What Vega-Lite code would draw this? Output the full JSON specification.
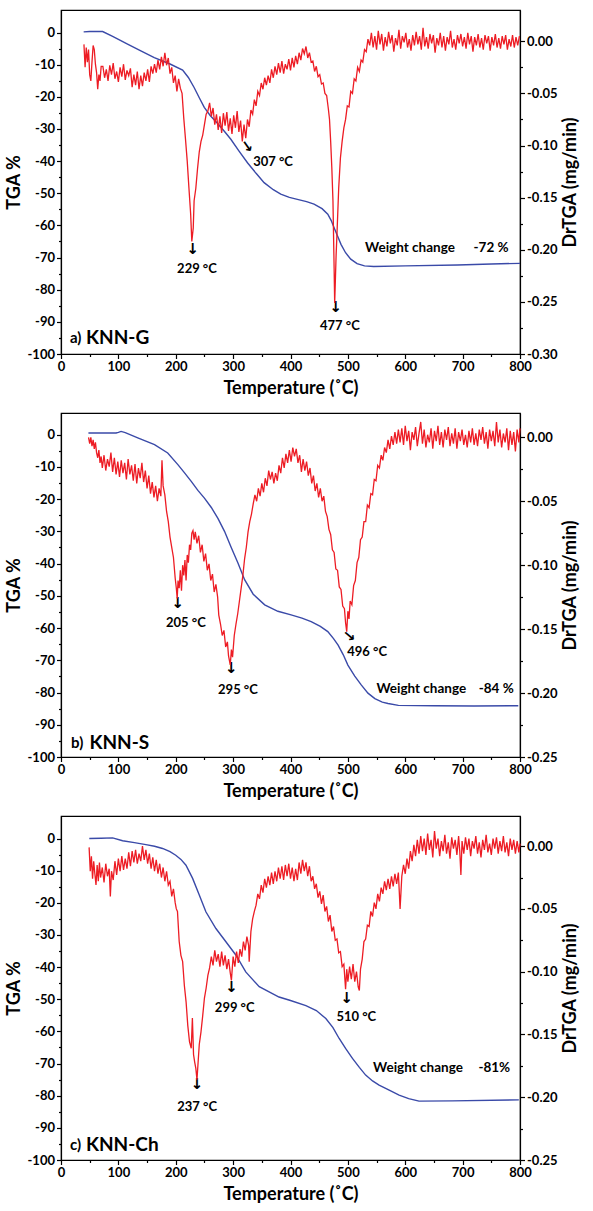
{
"$schema":"https://vega.github.io/schema/vega-lite/v6.json",
"background":"white",
"padding":{"left":4,"top":9,"right":5,"bottom":2},
"spacing":13,
"config":{
 "font":"Lato",
 "view":{"stroke":"black","strokeWidth":1.2},
 "axis":{"domainColor":"black","domainWidth":1.2,"tickColor":"black","tickWidth":1.2,"labelColor":"black","labelFont":"Lato","labelFontSize":13,"labelFontWeight":"bold","titleFont":"Lato","titleFontSize":18,"titleFontWeight":"bold","titleColor":"black","grid":false,"labelPadding":2,"labelOverlap":false,"labelFlush":false}
},
"datasets":{
"ba":[{"t":39.5,"v":0.2},{"t":50,"v":0.3},{"t":72.6,"v":0.3},{"t":90,"v":-1.2},{"t":116,"v":-3.6},{"t":140,"v":-5.8},{"t":162.6,"v":-7.8},{"t":190,"v":-9.8},{"t":212,"v":-11.7},{"t":222,"v":-14},{"t":232,"v":-17.1},{"t":241,"v":-20.3},{"t":249.7,"v":-23.3},{"t":260,"v":-25.8},{"t":273,"v":-28.3},{"t":285,"v":-30.8},{"t":296,"v":-33.2},{"t":310,"v":-36.8},{"t":325,"v":-40.5},{"t":340,"v":-43.8},{"t":354,"v":-46.7},{"t":370,"v":-48.9},{"t":383,"v":-50.3},{"t":398,"v":-51.3},{"t":412,"v":-51.9},{"t":428,"v":-52.6},{"t":441,"v":-53.4},{"t":455,"v":-54.8},{"t":465,"v":-56.5},{"t":471,"v":-58.5},{"t":476,"v":-60.7},{"t":482,"v":-63.3},{"t":488,"v":-65.9},{"t":496,"v":-68.5},{"t":505,"v":-70.5},{"t":516,"v":-71.9},{"t":529,"v":-72.6},{"t":545,"v":-72.8},{"t":600,"v":-72.6},{"t":691,"v":-72.3},{"t":750,"v":-72.0},{"t":800,"v":-71.8}],
"bb":[{"t":47.8,"v":0.5},{"t":96,"v":0.5},{"t":100,"v":0.7},{"t":104.7,"v":1.0},{"t":112,"v":0.6},{"t":133.8,"v":-1.0},{"t":163,"v":-3.1},{"t":186,"v":-5.7},{"t":203.7,"v":-9.3},{"t":215,"v":-11.8},{"t":227,"v":-14.5},{"t":238.6,"v":-17.3},{"t":250,"v":-19.7},{"t":262,"v":-22.6},{"t":273.5,"v":-26},{"t":285,"v":-30},{"t":296.7,"v":-35},{"t":308.4,"v":-39.8},{"t":320,"v":-45},{"t":335,"v":-49.5},{"t":355,"v":-52.8},{"t":378,"v":-54.8},{"t":401,"v":-55.9},{"t":420,"v":-56.9},{"t":436,"v":-58},{"t":452,"v":-59.5},{"t":465,"v":-61.1},{"t":475,"v":-63.3},{"t":483,"v":-65.3},{"t":492,"v":-68.3},{"t":500,"v":-71.5},{"t":512,"v":-74.9},{"t":523.6,"v":-77.7},{"t":535,"v":-80.2},{"t":547,"v":-81.9},{"t":560,"v":-83},{"t":570,"v":-83.4},{"t":588,"v":-84},{"t":650,"v":-84.1},{"t":720,"v":-84.2},{"t":797,"v":-84.1}],
"bc":[{"t":49.3,"v":0},{"t":70,"v":0.1},{"t":90,"v":0.2},{"t":107.4,"v":-0.7},{"t":128,"v":-1.3},{"t":148,"v":-1.9},{"t":163,"v":-2.4},{"t":177,"v":-3.1},{"t":190,"v":-4.1},{"t":200,"v":-5.2},{"t":209,"v":-6.5},{"t":217.8,"v":-8.3},{"t":229.4,"v":-12.4},{"t":241,"v":-17.6},{"t":252.5,"v":-22.8},{"t":270,"v":-28},{"t":287.4,"v":-32.1},{"t":305,"v":-36.3},{"t":322,"v":-41.5},{"t":345.5,"v":-46.1},{"t":380,"v":-49.3},{"t":400,"v":-50.4},{"t":426.8,"v":-52},{"t":445,"v":-53.5},{"t":461.6,"v":-56},{"t":474,"v":-58.8},{"t":484.8,"v":-62.2},{"t":496,"v":-65.3},{"t":508,"v":-68.4},{"t":520,"v":-71.2},{"t":531,"v":-73.6},{"t":543,"v":-75.4},{"t":554.4,"v":-76.7},{"t":572,"v":-78.3},{"t":589.3,"v":-79.8},{"t":606,"v":-80.9},{"t":624,"v":-81.7},{"t":682,"v":-81.6},{"t":798,"v":-81.3}],
"ra":[{"t":40,"d":-0.003},{"t":42,"d":-0.025},{"t":44,"d":-0.006},{"t":46,"d":-0.020},{"t":48,"d":-0.008},{"t":50,"d":-0.032},{"t":52,"d":-0.038},{"t":54,"d":-0.020},{"t":56,"d":-0.004},{"t":58,"d":-0.008},{"t":60,"d":-0.022},{"t":62,"d":-0.030},{"t":64,"d":-0.046},{"t":66,"d":-0.032},{"t":68,"d":-0.038},{"t":70,"d":-0.024},{"t":73,"d":-0.024},{"t":76,"d":-0.035},{"t":79,"d":-0.027},{"t":82,"d":-0.038},{"t":85,"d":-0.023},{"t":88,"d":-0.032},{"t":91,"d":-0.021},{"t":94,"d":-0.036},{"t":97,"d":-0.029},{"t":100,"d":-0.039},{"t":103,"d":-0.025},{"t":106,"d":-0.034},{"t":109,"d":-0.022},{"t":112,"d":-0.037},{"t":115,"d":-0.028},{"t":118,"d":-0.033},{"t":121,"d":-0.026},{"t":124,"d":-0.044},{"t":127,"d":-0.032},{"t":130,"d":-0.042},{"t":133,"d":-0.029},{"t":136,"d":-0.046},{"t":139,"d":-0.033},{"t":142,"d":-0.043},{"t":145,"d":-0.030},{"t":148,"d":-0.038},{"t":151,"d":-0.027},{"t":154,"d":-0.039},{"t":157,"d":-0.024},{"t":160,"d":-0.031},{"t":163,"d":-0.022},{"t":166,"d":-0.030},{"t":169,"d":-0.018},{"t":172,"d":-0.027},{"t":175,"d":-0.015},{"t":178,"d":-0.024},{"t":181,"d":-0.011},{"t":184,"d":-0.023},{"t":187,"d":-0.016},{"t":190,"d":-0.031},{"t":193,"d":-0.025},{"t":196,"d":-0.040},{"t":199,"d":-0.033},{"t":202,"d":-0.048},{"t":205,"d":-0.036},{"t":208,"d":-0.045},{"t":211,"d":-0.050},{"t":214,"d":-0.074},{"t":217,"d":-0.094},{"t":220,"d":-0.115},{"t":223,"d":-0.141},{"t":226,"d":-0.166},{"t":228,"d":-0.192},{"t":230.5,"d":-0.179},{"t":232,"d":-0.153},{"t":235,"d":-0.141},{"t":238,"d":-0.122},{"t":241,"d":-0.106},{"t":244,"d":-0.096},{"t":247,"d":-0.090},{"t":250,"d":-0.080},{"t":253,"d":-0.070},{"t":256,"d":-0.067},{"t":259,"d":-0.059},{"t":262,"d":-0.072},{"t":265,"d":-0.064},{"t":268,"d":-0.080},{"t":271,"d":-0.070},{"t":274,"d":-0.085},{"t":277,"d":-0.072},{"t":280,"d":-0.088},{"t":283,"d":-0.069},{"t":286,"d":-0.081},{"t":289,"d":-0.068},{"t":292,"d":-0.086},{"t":295,"d":-0.074},{"t":298,"d":-0.089},{"t":301,"d":-0.071},{"t":304,"d":-0.083},{"t":307,"d":-0.067},{"t":310,"d":-0.087},{"t":313,"d":-0.076},{"t":316,"d":-0.096},{"t":319,"d":-0.080},{"t":322,"d":-0.093},{"t":325,"d":-0.075},{"t":328,"d":-0.082},{"t":331,"d":-0.066},{"t":334,"d":-0.070},{"t":337,"d":-0.056},{"t":340,"d":-0.062},{"t":343,"d":-0.048},{"t":346,"d":-0.052},{"t":349,"d":-0.040},{"t":352,"d":-0.046},{"t":355,"d":-0.035},{"t":358,"d":-0.042},{"t":361,"d":-0.033},{"t":364,"d":-0.040},{"t":367,"d":-0.027},{"t":370,"d":-0.035},{"t":373,"d":-0.024},{"t":376,"d":-0.032},{"t":379,"d":-0.021},{"t":382,"d":-0.030},{"t":385,"d":-0.019},{"t":388,"d":-0.031},{"t":391,"d":-0.022},{"t":394,"d":-0.027},{"t":397,"d":-0.017},{"t":400,"d":-0.028},{"t":403,"d":-0.016},{"t":406,"d":-0.025},{"t":409,"d":-0.014},{"t":412,"d":-0.022},{"t":415,"d":-0.011},{"t":418,"d":-0.018},{"t":421,"d":-0.007},{"t":424,"d":-0.012},{"t":427,"d":-0.005},{"t":430,"d":-0.016},{"t":433,"d":-0.011},{"t":436,"d":-0.020},{"t":439,"d":-0.019},{"t":442,"d":-0.029},{"t":445,"d":-0.024},{"t":448,"d":-0.034},{"t":451,"d":-0.032},{"t":454,"d":-0.041},{"t":457,"d":-0.040},{"t":460,"d":-0.050},{"t":463,"d":-0.052},{"t":466,"d":-0.065},{"t":468,"d":-0.075},{"t":470,"d":-0.096},{"t":472,"d":-0.121},{"t":474,"d":-0.153},{"t":476,"d":-0.217},{"t":477,"d":-0.251},{"t":478,"d":-0.233},{"t":479.5,"d":-0.205},{"t":481,"d":-0.185},{"t":484,"d":-0.141},{"t":487,"d":-0.112},{"t":490,"d":-0.096},{"t":493,"d":-0.083},{"t":496,"d":-0.075},{"t":499,"d":-0.062},{"t":502,"d":-0.063},{"t":505,"d":-0.048},{"t":508,"d":-0.050},{"t":511,"d":-0.036},{"t":514,"d":-0.038},{"t":517,"d":-0.025},{"t":520,"d":-0.029},{"t":523,"d":-0.018},{"t":526,"d":-0.020},{"t":529,"d":-0.008},{"t":532,"d":-0.010},{"t":535,"d":0.002},{"t":538,"d":-0.004},{"t":541,"d":0.008},{"t":544,"d":-0.006},{"t":547,"d":0.005},{"t":550,"d":-0.008},{"t":553,"d":0.010},{"t":556,"d":-0.003},{"t":559,"d":0.007},{"t":562,"d":-0.009},{"t":565,"d":0.004},{"t":568,"d":-0.005},{"t":571,"d":0.009},{"t":574,"d":-0.002},{"t":577,"d":0.006},{"t":580,"d":-0.010},{"t":583,"d":0.003},{"t":586,"d":-0.004},{"t":589,"d":0.011},{"t":592,"d":-0.007},{"t":595,"d":0.005},{"t":598,"d":-0.001},{"t":601,"d":0.008},{"t":604,"d":-0.006},{"t":607,"d":0.002},{"t":610,"d":-0.009},{"t":613,"d":0.006},{"t":616,"d":-0.004},{"t":619,"d":0.009},{"t":622,"d":-0.003},{"t":625,"d":0.005},{"t":628,"d":-0.008},{"t":631,"d":0.013},{"t":634,"d":-0.005},{"t":637,"d":0.004},{"t":640,"d":-0.007},{"t":643,"d":0.007},{"t":646,"d":-0.002},{"t":649,"d":0.006},{"t":652,"d":-0.011},{"t":655,"d":0.003},{"t":658,"d":-0.004},{"t":661,"d":0.008},{"t":664,"d":-0.006},{"t":667,"d":0.005},{"t":670,"d":-0.009},{"t":673,"d":0.004},{"t":676,"d":-0.003},{"t":679,"d":0.010},{"t":682,"d":-0.006},{"t":685,"d":0.002},{"t":688,"d":-0.008},{"t":691,"d":0.006},{"t":694,"d":-0.002},{"t":697,"d":0.007},{"t":700,"d":-0.005},{"t":703,"d":0.004},{"t":706,"d":-0.007},{"t":709,"d":0.008},{"t":712,"d":-0.003},{"t":715,"d":0.005},{"t":718,"d":-0.010},{"t":721,"d":0.004},{"t":724,"d":-0.004},{"t":727,"d":0.007},{"t":730,"d":-0.006},{"t":733,"d":0.003},{"t":736,"d":-0.008},{"t":739,"d":0.006},{"t":742,"d":-0.002},{"t":745,"d":0.005},{"t":748,"d":-0.009},{"t":751,"d":0.004},{"t":754,"d":-0.004},{"t":757,"d":0.007},{"t":760,"d":-0.006},{"t":763,"d":0.003},{"t":766,"d":-0.007},{"t":769,"d":0.005},{"t":772,"d":-0.003},{"t":775,"d":0.006},{"t":778,"d":-0.008},{"t":781,"d":0.002},{"t":784,"d":-0.005},{"t":787,"d":0.006},{"t":790,"d":-0.006},{"t":793,"d":0.004},{"t":796,"d":-0.004},{"t":799,"d":0.005}],
"rb":[{"t":48,"d":0.000},{"t":50,"d":-0.005},{"t":52,"d":0.000},{"t":54,"d":-0.007},{"t":56,"d":-0.002},{"t":58,"d":-0.009},{"t":60,"d":-0.004},{"t":62,"d":-0.012},{"t":64,"d":-0.016},{"t":66,"d":-0.010},{"t":68,"d":-0.020},{"t":70,"d":-0.015},{"t":72,"d":-0.024},{"t":75,"d":-0.014},{"t":78,"d":-0.026},{"t":81,"d":-0.017},{"t":84,"d":-0.023},{"t":87,"d":-0.012},{"t":90,"d":-0.027},{"t":93,"d":-0.016},{"t":96,"d":-0.029},{"t":99,"d":-0.019},{"t":102,"d":-0.031},{"t":105,"d":-0.018},{"t":108,"d":-0.028},{"t":111,"d":-0.020},{"t":114,"d":-0.033},{"t":117,"d":-0.017},{"t":120,"d":-0.029},{"t":123,"d":-0.022},{"t":126,"d":-0.034},{"t":129,"d":-0.021},{"t":132,"d":-0.036},{"t":135,"d":-0.024},{"t":138,"d":-0.032},{"t":141,"d":-0.020},{"t":144,"d":-0.035},{"t":147,"d":-0.026},{"t":150,"d":-0.040},{"t":153,"d":-0.030},{"t":156,"d":-0.044},{"t":159,"d":-0.035},{"t":162,"d":-0.047},{"t":165,"d":-0.038},{"t":168,"d":-0.050},{"t":171,"d":-0.040},{"t":174,"d":-0.046},{"t":176,"d":-0.018},{"t":178,"d":-0.038},{"t":181,"d":-0.045},{"t":184,"d":-0.058},{"t":187,"d":-0.066},{"t":190,"d":-0.078},{"t":193,"d":-0.086},{"t":196,"d":-0.094},{"t":199,"d":-0.110},{"t":201,"d":-0.118},{"t":202.5,"d":-0.126},{"t":204,"d":-0.112},{"t":206,"d":-0.118},{"t":208,"d":-0.104},{"t":210,"d":-0.120},{"t":212,"d":-0.100},{"t":214,"d":-0.108},{"t":216,"d":-0.096},{"t":218,"d":-0.112},{"t":220,"d":-0.092},{"t":222,"d":-0.098},{"t":224,"d":-0.084},{"t":226,"d":-0.088},{"t":228,"d":-0.075},{"t":230,"d":-0.073},{"t":232,"d":-0.080},{"t":234,"d":-0.074},{"t":237,"d":-0.083},{"t":240,"d":-0.077},{"t":243,"d":-0.090},{"t":246,"d":-0.084},{"t":249,"d":-0.097},{"t":252,"d":-0.091},{"t":255,"d":-0.104},{"t":258,"d":-0.099},{"t":261,"d":-0.112},{"t":264,"d":-0.107},{"t":267,"d":-0.121},{"t":270,"d":-0.115},{"t":273,"d":-0.125},{"t":275,"d":-0.139},{"t":278,"d":-0.146},{"t":281,"d":-0.155},{"t":284,"d":-0.151},{"t":287,"d":-0.164},{"t":290,"d":-0.160},{"t":292,"d":-0.171},{"t":295,"d":-0.178},{"t":297,"d":-0.166},{"t":299,"d":-0.172},{"t":302,"d":-0.155},{"t":305,"d":-0.146},{"t":308,"d":-0.138},{"t":311,"d":-0.128},{"t":314,"d":-0.118},{"t":317,"d":-0.108},{"t":320,"d":-0.095},{"t":323,"d":-0.086},{"t":326,"d":-0.074},{"t":329,"d":-0.066},{"t":332,"d":-0.060},{"t":335,"d":-0.052},{"t":338,"d":-0.045},{"t":341,"d":-0.050},{"t":344,"d":-0.040},{"t":347,"d":-0.046},{"t":350,"d":-0.036},{"t":353,"d":-0.043},{"t":356,"d":-0.032},{"t":359,"d":-0.038},{"t":362,"d":-0.026},{"t":365,"d":-0.033},{"t":368,"d":-0.027},{"t":371,"d":-0.036},{"t":374,"d":-0.028},{"t":377,"d":-0.034},{"t":380,"d":-0.022},{"t":383,"d":-0.028},{"t":386,"d":-0.016},{"t":389,"d":-0.024},{"t":392,"d":-0.013},{"t":395,"d":-0.020},{"t":398,"d":-0.010},{"t":401,"d":-0.019},{"t":404,"d":-0.008},{"t":407,"d":-0.015},{"t":410,"d":-0.009},{"t":413,"d":-0.020},{"t":416,"d":-0.014},{"t":419,"d":-0.027},{"t":422,"d":-0.017},{"t":425,"d":-0.026},{"t":428,"d":-0.019},{"t":431,"d":-0.030},{"t":434,"d":-0.024},{"t":437,"d":-0.036},{"t":440,"d":-0.030},{"t":443,"d":-0.042},{"t":446,"d":-0.036},{"t":449,"d":-0.047},{"t":452,"d":-0.040},{"t":455,"d":-0.050},{"t":458,"d":-0.046},{"t":461,"d":-0.058},{"t":464,"d":-0.062},{"t":467,"d":-0.072},{"t":470,"d":-0.076},{"t":473,"d":-0.088},{"t":476,"d":-0.090},{"t":479,"d":-0.103},{"t":482,"d":-0.104},{"t":485,"d":-0.117},{"t":488,"d":-0.119},{"t":491,"d":-0.132},{"t":494,"d":-0.134},{"t":496,"d":-0.145},{"t":498,"d":-0.152},{"t":500,"d":-0.136},{"t":502,"d":-0.142},{"t":504,"d":-0.128},{"t":507,"d":-0.131},{"t":510,"d":-0.116},{"t":513,"d":-0.112},{"t":516,"d":-0.098},{"t":519,"d":-0.094},{"t":522,"d":-0.080},{"t":525,"d":-0.078},{"t":528,"d":-0.066},{"t":531,"d":-0.066},{"t":534,"d":-0.053},{"t":537,"d":-0.055},{"t":540,"d":-0.044},{"t":543,"d":-0.045},{"t":546,"d":-0.033},{"t":549,"d":-0.034},{"t":552,"d":-0.022},{"t":555,"d":-0.024},{"t":558,"d":-0.014},{"t":561,"d":-0.018},{"t":564,"d":-0.008},{"t":567,"d":-0.012},{"t":570,"d":-0.002},{"t":573,"d":-0.009},{"t":576,"d":0.001},{"t":579,"d":-0.006},{"t":582,"d":0.004},{"t":585,"d":-0.005},{"t":588,"d":0.006},{"t":591,"d":-0.004},{"t":594,"d":0.007},{"t":597,"d":-0.006},{"t":600,"d":0.009},{"t":603,"d":-0.003},{"t":606,"d":0.005},{"t":609,"d":-0.010},{"t":612,"d":0.004},{"t":615,"d":-0.002},{"t":618,"d":0.008},{"t":621,"d":-0.007},{"t":624,"d":0.003},{"t":627,"d":0.012},{"t":630,"d":-0.005},{"t":633,"d":0.006},{"t":636,"d":-0.008},{"t":639,"d":0.002},{"t":642,"d":-0.004},{"t":645,"d":0.007},{"t":648,"d":-0.009},{"t":651,"d":0.005},{"t":654,"d":-0.003},{"t":657,"d":0.009},{"t":660,"d":-0.006},{"t":663,"d":0.004},{"t":666,"d":-0.008},{"t":669,"d":0.006},{"t":672,"d":-0.002},{"t":675,"d":0.008},{"t":678,"d":-0.007},{"t":681,"d":0.003},{"t":684,"d":-0.005},{"t":687,"d":0.007},{"t":690,"d":-0.009},{"t":693,"d":0.004},{"t":696,"d":-0.003},{"t":699,"d":0.006},{"t":702,"d":-0.006},{"t":705,"d":0.002},{"t":708,"d":-0.008},{"t":711,"d":0.005},{"t":714,"d":-0.004},{"t":717,"d":0.007},{"t":720,"d":-0.006},{"t":723,"d":0.003},{"t":726,"d":-0.007},{"t":729,"d":0.006},{"t":732,"d":-0.002},{"t":735,"d":0.008},{"t":738,"d":-0.005},{"t":741,"d":0.004},{"t":744,"d":-0.009},{"t":747,"d":0.006},{"t":750,"d":-0.003},{"t":753,"d":0.005},{"t":756,"d":-0.007},{"t":759,"d":0.012},{"t":762,"d":-0.004},{"t":765,"d":0.006},{"t":768,"d":-0.008},{"t":771,"d":0.003},{"t":774,"d":-0.004},{"t":777,"d":0.007},{"t":780,"d":-0.010},{"t":783,"d":0.005},{"t":786,"d":-0.006},{"t":789,"d":0.004},{"t":792,"d":-0.011},{"t":795,"d":0.006},{"t":798,"d":-0.004},{"t":800,"d":0.007}],
"rc":[{"t":49,"d":-0.001},{"t":51,"d":-0.020},{"t":53,"d":-0.008},{"t":55,"d":-0.026},{"t":57,"d":-0.012},{"t":59,"d":-0.022},{"t":61,"d":-0.031},{"t":63,"d":-0.015},{"t":65,"d":-0.028},{"t":67,"d":-0.013},{"t":69,"d":-0.025},{"t":72,"d":-0.017},{"t":75,"d":-0.029},{"t":78,"d":-0.014},{"t":81,"d":-0.024},{"t":84,"d":-0.018},{"t":86,"d":-0.040},{"t":88,"d":-0.020},{"t":91,"d":-0.027},{"t":94,"d":-0.012},{"t":97,"d":-0.023},{"t":100,"d":-0.010},{"t":103,"d":-0.020},{"t":106,"d":-0.008},{"t":109,"d":-0.019},{"t":112,"d":-0.010},{"t":115,"d":-0.018},{"t":118,"d":-0.005},{"t":121,"d":-0.016},{"t":124,"d":-0.004},{"t":127,"d":-0.013},{"t":130,"d":-0.003},{"t":133,"d":-0.014},{"t":136,"d":-0.006},{"t":139,"d":-0.012},{"t":142,"d":0.000},{"t":145,"d":-0.011},{"t":148,"d":-0.003},{"t":151,"d":-0.014},{"t":154,"d":-0.006},{"t":157,"d":-0.018},{"t":160,"d":-0.009},{"t":163,"d":-0.020},{"t":166,"d":-0.011},{"t":169,"d":-0.022},{"t":172,"d":-0.014},{"t":175,"d":-0.025},{"t":178,"d":-0.017},{"t":181,"d":-0.028},{"t":184,"d":-0.020},{"t":187,"d":-0.031},{"t":190,"d":-0.028},{"t":193,"d":-0.040},{"t":196,"d":-0.034},{"t":199,"d":-0.045},{"t":201,"d":-0.050},{"t":203,"d":-0.052},{"t":206,"d":-0.076},{"t":209,"d":-0.087},{"t":212,"d":-0.092},{"t":215,"d":-0.111},{"t":218,"d":-0.124},{"t":221,"d":-0.143},{"t":224,"d":-0.156},{"t":227,"d":-0.161},{"t":229,"d":-0.137},{"t":231,"d":-0.166},{"t":233,"d":-0.172},{"t":235,"d":-0.177},{"t":237,"d":-0.186},{"t":239,"d":-0.172},{"t":241,"d":-0.158},{"t":244,"d":-0.148},{"t":247,"d":-0.135},{"t":250,"d":-0.121},{"t":253,"d":-0.113},{"t":256,"d":-0.103},{"t":259,"d":-0.097},{"t":262,"d":-0.088},{"t":265,"d":-0.095},{"t":268,"d":-0.083},{"t":271,"d":-0.092},{"t":274,"d":-0.086},{"t":277,"d":-0.096},{"t":280,"d":-0.084},{"t":283,"d":-0.095},{"t":286,"d":-0.087},{"t":289,"d":-0.098},{"t":292,"d":-0.090},{"t":295,"d":-0.101},{"t":297,"d":-0.107},{"t":300,"d":-0.088},{"t":303,"d":-0.096},{"t":306,"d":-0.084},{"t":309,"d":-0.093},{"t":312,"d":-0.082},{"t":315,"d":-0.088},{"t":318,"d":-0.076},{"t":321,"d":-0.083},{"t":324,"d":-0.072},{"t":327,"d":-0.079},{"t":328,"d":-0.092},{"t":331,"d":-0.068},{"t":334,"d":-0.058},{"t":337,"d":-0.052},{"t":340,"d":-0.047},{"t":343,"d":-0.038},{"t":346,"d":-0.042},{"t":349,"d":-0.031},{"t":352,"d":-0.037},{"t":355,"d":-0.026},{"t":358,"d":-0.033},{"t":361,"d":-0.024},{"t":364,"d":-0.031},{"t":367,"d":-0.021},{"t":370,"d":-0.030},{"t":373,"d":-0.020},{"t":376,"d":-0.028},{"t":379,"d":-0.017},{"t":382,"d":-0.026},{"t":385,"d":-0.016},{"t":388,"d":-0.027},{"t":391,"d":-0.015},{"t":394,"d":-0.024},{"t":397,"d":-0.014},{"t":400,"d":-0.026},{"t":403,"d":-0.017},{"t":406,"d":-0.028},{"t":409,"d":-0.018},{"t":412,"d":-0.027},{"t":415,"d":-0.013},{"t":418,"d":-0.022},{"t":421,"d":-0.011},{"t":424,"d":-0.020},{"t":427,"d":-0.013},{"t":430,"d":-0.024},{"t":433,"d":-0.016},{"t":436,"d":-0.028},{"t":439,"d":-0.024},{"t":442,"d":-0.034},{"t":445,"d":-0.030},{"t":448,"d":-0.041},{"t":451,"d":-0.036},{"t":454,"d":-0.046},{"t":457,"d":-0.039},{"t":460,"d":-0.052},{"t":463,"d":-0.048},{"t":466,"d":-0.060},{"t":469,"d":-0.055},{"t":472,"d":-0.068},{"t":475,"d":-0.064},{"t":478,"d":-0.075},{"t":481,"d":-0.074},{"t":484,"d":-0.085},{"t":487,"d":-0.084},{"t":490,"d":-0.096},{"t":493,"d":-0.094},{"t":496,"d":-0.114},{"t":498,"d":-0.098},{"t":500,"d":-0.108},{"t":503,"d":-0.096},{"t":506,"d":-0.106},{"t":509,"d":-0.094},{"t":512,"d":-0.108},{"t":515,"d":-0.100},{"t":518,"d":-0.112},{"t":520,"d":-0.115},{"t":522,"d":-0.098},{"t":525,"d":-0.090},{"t":528,"d":-0.076},{"t":531,"d":-0.074},{"t":534,"d":-0.063},{"t":537,"d":-0.064},{"t":540,"d":-0.052},{"t":543,"d":-0.056},{"t":546,"d":-0.045},{"t":549,"d":-0.050},{"t":552,"d":-0.038},{"t":555,"d":-0.044},{"t":558,"d":-0.033},{"t":561,"d":-0.038},{"t":564,"d":-0.028},{"t":567,"d":-0.035},{"t":570,"d":-0.026},{"t":573,"d":-0.034},{"t":576,"d":-0.024},{"t":579,"d":-0.032},{"t":582,"d":-0.022},{"t":585,"d":-0.030},{"t":588,"d":-0.021},{"t":591,"d":-0.050},{"t":594,"d":-0.024},{"t":597,"d":-0.015},{"t":600,"d":-0.022},{"t":603,"d":-0.010},{"t":606,"d":-0.018},{"t":609,"d":-0.004},{"t":612,"d":-0.012},{"t":615,"d":0.001},{"t":618,"d":-0.008},{"t":621,"d":0.005},{"t":624,"d":-0.006},{"t":627,"d":0.008},{"t":630,"d":-0.004},{"t":633,"d":0.006},{"t":636,"d":-0.007},{"t":639,"d":0.010},{"t":642,"d":-0.003},{"t":645,"d":0.005},{"t":648,"d":-0.009},{"t":651,"d":0.012},{"t":654,"d":-0.002},{"t":657,"d":0.006},{"t":660,"d":-0.008},{"t":663,"d":0.004},{"t":666,"d":-0.004},{"t":669,"d":0.009},{"t":672,"d":-0.006},{"t":675,"d":0.003},{"t":678,"d":-0.010},{"t":681,"d":0.007},{"t":684,"d":-0.002},{"t":687,"d":0.005},{"t":690,"d":-0.007},{"t":693,"d":0.008},{"t":695,"d":-0.004},{"t":697,"d":-0.023},{"t":699,"d":0.004},{"t":702,"d":-0.006},{"t":705,"d":0.007},{"t":708,"d":-0.003},{"t":711,"d":0.006},{"t":714,"d":-0.008},{"t":717,"d":0.004},{"t":720,"d":-0.002},{"t":723,"d":0.008},{"t":726,"d":-0.006},{"t":729,"d":0.003},{"t":732,"d":-0.009},{"t":735,"d":0.005},{"t":738,"d":-0.003},{"t":741,"d":0.009},{"t":744,"d":-0.005},{"t":747,"d":0.002},{"t":750,"d":-0.007},{"t":753,"d":0.006},{"t":756,"d":-0.002},{"t":759,"d":0.007},{"t":762,"d":-0.006},{"t":765,"d":0.004},{"t":768,"d":-0.004},{"t":771,"d":0.008},{"t":774,"d":-0.005},{"t":777,"d":0.003},{"t":780,"d":-0.008},{"t":783,"d":0.006},{"t":786,"d":-0.003},{"t":789,"d":0.005},{"t":792,"d":-0.006},{"t":795,"d":0.004},{"t":798,"d":-0.005},{"t":800,"d":0.002}],
"ann":[
{"p":"a","k":"peak","t":237,"v":-73.6,"s":"229 °C"},
{"p":"a","k":"arrow","t":229.5,"v":-67.2,"s":"↓"},
{"p":"a","k":"peak","t":369.6,"v":-40.3,"s":"307 °C"},
{"p":"a","k":"arrowd","t":325,"v":-35.5,"s":"↓"},
{"p":"a","k":"peak","t":486,"v":-91.3,"s":"477 °C"},
{"p":"a","k":"arrow","t":479,"v":-85.3,"s":"↓"},
{"p":"a","k":"wc","t":530,"v":-66.9,"s":"Weight change"},
{"p":"a","k":"wc","t":719,"v":-66.9,"s":"-72 %"},
{"p":"a","k":"tag","t":15.7,"v":-95.1,"s":"a)"},
{"p":"a","k":"name","t":43.6,"v":-95.1,"s":"KNN-G"},
{"p":"b","k":"peak","t":217.6,"v":-58.5,"s":"205 °C"},
{"p":"b","k":"arrow","t":203.6,"v":-52.3,"s":"↓"},
{"p":"b","k":"peak","t":308.4,"v":-79.3,"s":"295 °C"},
{"p":"b","k":"arrow","t":296.7,"v":-72.3,"s":"↓"},
{"p":"b","k":"peak","t":533.5,"v":-67.3,"s":"496 °C"},
{"p":"b","k":"arrowd","t":503,"v":-62.5,"s":"↓"},
{"p":"b","k":"wc","t":549.7,"v":-78.8,"s":"Weight change"},
{"p":"b","k":"wc","t":728,"v":-78.8,"s":"-84 %"},
{"p":"b","k":"tag","t":17.5,"v":-95.8,"s":"b)"},
{"p":"b","k":"name","t":49.6,"v":-95.8,"s":"KNN-S"},
{"p":"c","k":"peak","t":237.2,"v":-83.4,"s":"237 °C"},
{"p":"c","k":"arrow","t":237,"v":-76.5,"s":"↓"},
{"p":"c","k":"peak","t":302.8,"v":-52.8,"s":"299 °C"},
{"p":"c","k":"arrow","t":297.3,"v":-46.2,"s":"↓"},
{"p":"c","k":"peak","t":514.7,"v":-55.4,"s":"510 °C"},
{"p":"c","k":"arrow","t":498,"v":-49.5,"s":"↓"},
{"p":"c","k":"wc","t":544,"v":-71.3,"s":"Weight change"},
{"p":"c","k":"wc","t":727.5,"v":-71.3,"s":"-81%"},
{"p":"c","k":"tag","t":15.7,"v":-95.3,"s":"c)"},
{"p":"c","k":"name","t":43.5,"v":-95.3,"s":"KNN-Ch"}
]
},
"vconcat":[
{
 "width":459,"height":344,
 "layer":[
  {"layer":[
   {"data":{"name":"ba"},"mark":{"type":"line","color":"#3a4aa8","strokeWidth":1.4},
    "encoding":{
     "x":{"field":"t","type":"quantitative","scale":{"domain":[0,800],"nice":false},"axis":{"title":"Temperature (˚C)","values":[0,50,100,150,200,250,300,350,400,450,500,550,600,650,700,750,800],"tickCount":100,"labelExpr":"datum.value % 100 === 0 ? datum.label : ''","labelOverlap":false,"tickSize":{"condition":{"test":"datum.value % 100 !== 0","value":2.5},"value":4.5},"titlePadding":6}},
     "y":{"field":"v","type":"quantitative","scale":{"domain":[-100,7],"nice":false,"zero":false},"axis":{"title":"TGA %","values":[-100,-95,-90,-85,-80,-75,-70,-65,-60,-55,-50,-45,-40,-35,-30,-25,-20,-15,-10,-5,0],"tickCount":100,"labelExpr":"abs(datum.value) % 10 < 0.5 ? replace(format(datum.value,'d'),'−','-') : ''","labelOverlap":false,"tickSize":{"condition":{"test":"abs(datum.value) % 10 > 0.5","value":2.5},"value":4.5}}}}},
   {"data":{"name":"ann"},"transform":[{"filter":"datum.p=='a' && datum.k=='peak'"}],"mark":{"type":"text","font":"Lato","fontWeight":"bold","fontSize":13,"align":"center","baseline":"middle","color":"black"},"encoding":{"x":{"field":"t","type":"quantitative"},"y":{"field":"v","type":"quantitative"},"text":{"field":"s"}}},
   {"data":{"name":"ann"},"transform":[{"filter":"datum.p=='a' && datum.k=='arrow'"}],"mark":{"type":"text","font":"DejaVu Sans","fontWeight":"bold","fontSize":15,"align":"center","baseline":"middle","color":"black"},"encoding":{"x":{"field":"t","type":"quantitative"},"y":{"field":"v","type":"quantitative"},"text":{"field":"s"}}},
   {"data":{"name":"ann"},"transform":[{"filter":"datum.p=='a' && datum.k=='arrowd'"}],"mark":{"type":"text","font":"DejaVu Sans","fontWeight":"bold","fontSize":15,"align":"center","baseline":"middle","angle":-35,"color":"black"},"encoding":{"x":{"field":"t","type":"quantitative"},"y":{"field":"v","type":"quantitative"},"text":{"field":"s"}}},
   {"data":{"name":"ann"},"transform":[{"filter":"datum.p=='a' && datum.k=='wc'"}],"mark":{"type":"text","font":"Lato","fontWeight":"bold","fontSize":13.5,"align":"left","baseline":"middle","color":"black"},"encoding":{"x":{"field":"t","type":"quantitative"},"y":{"field":"v","type":"quantitative"},"text":{"field":"s"}}},
   {"data":{"name":"ann"},"transform":[{"filter":"datum.p=='a' && datum.k=='tag'"}],"mark":{"type":"text","font":"Lato","fontWeight":"bold","fontSize":15,"align":"left","baseline":"middle","color":"black"},"encoding":{"x":{"field":"t","type":"quantitative"},"y":{"field":"v","type":"quantitative"},"text":{"field":"s"}}},
   {"data":{"name":"ann"},"transform":[{"filter":"datum.p=='a' && datum.k=='name'"}],"mark":{"type":"text","font":"Lato","fontWeight":"bold","fontSize":19,"align":"left","baseline":"middle","color":"black"},"encoding":{"x":{"field":"t","type":"quantitative"},"y":{"field":"v","type":"quantitative"},"text":{"field":"s"}}}
  ]},
  {"data":{"name":"ra"},"mark":{"type":"line","color":"#ed1c24","strokeWidth":1.3},
   "encoding":{
    "x":{"field":"t","type":"quantitative"},
    "y":{"field":"d","type":"quantitative","scale":{"domain":[-0.3,0.03],"nice":false,"zero":false},"axis":{"orient":"right","title":"DrTGA (mg/min)","titleAngle":270,"titleBaseline":"top","values":[0,-0.025,-0.05,-0.075,-0.1,-0.125,-0.15,-0.175,-0.2,-0.225,-0.25,-0.275,-0.3],"tickCount":100,"labelExpr":"abs(datum.value*20 - round(datum.value*20)) > 0.1 ? '' : replace(format(datum.value,'.2f'),'−','-')","labelOverlap":false,"tickSize":{"condition":{"test":"abs(datum.value*20 - round(datum.value*20)) > 0.1","value":2.5},"value":4.5}}}}}
 ],
 "resolve":{"scale":{"y":"independent"}}
},
{
 "width":459,"height":344,
 "layer":[
  {"layer":[
   {"data":{"name":"bb"},"mark":{"type":"line","color":"#3a4aa8","strokeWidth":1.4},
    "encoding":{
     "x":{"field":"t","type":"quantitative","scale":{"domain":[0,800],"nice":false},"axis":{"title":"Temperature (˚C)","values":[0,50,100,150,200,250,300,350,400,450,500,550,600,650,700,750,800],"tickCount":100,"labelExpr":"datum.value % 100 === 0 ? datum.label : ''","labelOverlap":false,"tickSize":{"condition":{"test":"datum.value % 100 !== 0","value":2.5},"value":4.5},"titlePadding":6}},
     "y":{"field":"v","type":"quantitative","scale":{"domain":[-100,6.7],"nice":false,"zero":false},"axis":{"title":"TGA %","values":[-100,-95,-90,-85,-80,-75,-70,-65,-60,-55,-50,-45,-40,-35,-30,-25,-20,-15,-10,-5,0],"tickCount":100,"labelExpr":"abs(datum.value) % 10 < 0.5 ? replace(format(datum.value,'d'),'−','-') : ''","labelOverlap":false,"tickSize":{"condition":{"test":"abs(datum.value) % 10 > 0.5","value":2.5},"value":4.5}}}}},
   {"data":{"name":"ann"},"transform":[{"filter":"datum.p=='b' && datum.k=='peak'"}],"mark":{"type":"text","font":"Lato","fontWeight":"bold","fontSize":13,"align":"center","baseline":"middle","color":"black"},"encoding":{"x":{"field":"t","type":"quantitative"},"y":{"field":"v","type":"quantitative"},"text":{"field":"s"}}},
   {"data":{"name":"ann"},"transform":[{"filter":"datum.p=='b' && datum.k=='arrow'"}],"mark":{"type":"text","font":"DejaVu Sans","fontWeight":"bold","fontSize":15,"align":"center","baseline":"middle","color":"black"},"encoding":{"x":{"field":"t","type":"quantitative"},"y":{"field":"v","type":"quantitative"},"text":{"field":"s"}}},
   {"data":{"name":"ann"},"transform":[{"filter":"datum.p=='b' && datum.k=='arrowd'"}],"mark":{"type":"text","font":"DejaVu Sans","fontWeight":"bold","fontSize":15,"align":"center","baseline":"middle","angle":-50,"color":"black"},"encoding":{"x":{"field":"t","type":"quantitative"},"y":{"field":"v","type":"quantitative"},"text":{"field":"s"}}},
   {"data":{"name":"ann"},"transform":[{"filter":"datum.p=='b' && datum.k=='wc'"}],"mark":{"type":"text","font":"Lato","fontWeight":"bold","fontSize":13.5,"align":"left","baseline":"middle","color":"black"},"encoding":{"x":{"field":"t","type":"quantitative"},"y":{"field":"v","type":"quantitative"},"text":{"field":"s"}}},
   {"data":{"name":"ann"},"transform":[{"filter":"datum.p=='b' && datum.k=='tag'"}],"mark":{"type":"text","font":"Lato","fontWeight":"bold","fontSize":15,"align":"left","baseline":"middle","color":"black"},"encoding":{"x":{"field":"t","type":"quantitative"},"y":{"field":"v","type":"quantitative"},"text":{"field":"s"}}},
   {"data":{"name":"ann"},"transform":[{"filter":"datum.p=='b' && datum.k=='name'"}],"mark":{"type":"text","font":"Lato","fontWeight":"bold","fontSize":19,"align":"left","baseline":"middle","color":"black"},"encoding":{"x":{"field":"t","type":"quantitative"},"y":{"field":"v","type":"quantitative"},"text":{"field":"s"}}}
  ]},
  {"data":{"name":"rb"},"mark":{"type":"line","color":"#ed1c24","strokeWidth":1.3},
   "encoding":{
    "x":{"field":"t","type":"quantitative"},
    "y":{"field":"d","type":"quantitative","scale":{"domain":[-0.25,0.019],"nice":false,"zero":false},"axis":{"orient":"right","title":"DrTGA (mg/min)","titleAngle":270,"titleBaseline":"top","values":[0,-0.025,-0.05,-0.075,-0.1,-0.125,-0.15,-0.175,-0.2,-0.225,-0.25],"tickCount":100,"labelExpr":"abs(datum.value*20 - round(datum.value*20)) > 0.1 ? '' : replace(format(datum.value,'.2f'),'−','-')","labelOverlap":false,"tickSize":{"condition":{"test":"abs(datum.value*20 - round(datum.value*20)) > 0.1","value":2.5},"value":4.5}}}}}
 ],
 "resolve":{"scale":{"y":"independent"}}
},
{
 "width":459,"height":344,
 "layer":[
  {"layer":[
   {"data":{"name":"bc"},"mark":{"type":"line","color":"#3a4aa8","strokeWidth":1.4},
    "encoding":{
     "x":{"field":"t","type":"quantitative","scale":{"domain":[0,800],"nice":false},"axis":{"title":"Temperature (˚C)","values":[0,50,100,150,200,250,300,350,400,450,500,550,600,650,700,750,800],"tickCount":100,"labelExpr":"datum.value % 100 === 0 ? datum.label : ''","labelOverlap":false,"tickSize":{"condition":{"test":"datum.value % 100 !== 0","value":2.5},"value":4.5},"titlePadding":6}},
     "y":{"field":"v","type":"quantitative","scale":{"domain":[-100,7],"nice":false,"zero":false},"axis":{"title":"TGA %","values":[-100,-95,-90,-85,-80,-75,-70,-65,-60,-55,-50,-45,-40,-35,-30,-25,-20,-15,-10,-5,0],"tickCount":100,"labelExpr":"abs(datum.value) % 10 < 0.5 ? replace(format(datum.value,'d'),'−','-') : ''","labelOverlap":false,"tickSize":{"condition":{"test":"abs(datum.value) % 10 > 0.5","value":2.5},"value":4.5}}}}},
   {"data":{"name":"ann"},"transform":[{"filter":"datum.p=='c' && datum.k=='peak'"}],"mark":{"type":"text","font":"Lato","fontWeight":"bold","fontSize":13,"align":"center","baseline":"middle","color":"black"},"encoding":{"x":{"field":"t","type":"quantitative"},"y":{"field":"v","type":"quantitative"},"text":{"field":"s"}}},
   {"data":{"name":"ann"},"transform":[{"filter":"datum.p=='c' && datum.k=='arrow'"}],"mark":{"type":"text","font":"DejaVu Sans","fontWeight":"bold","fontSize":15,"align":"center","baseline":"middle","color":"black"},"encoding":{"x":{"field":"t","type":"quantitative"},"y":{"field":"v","type":"quantitative"},"text":{"field":"s"}}},
   {"data":{"name":"ann"},"transform":[{"filter":"datum.p=='c' && datum.k=='wc'"}],"mark":{"type":"text","font":"Lato","fontWeight":"bold","fontSize":13.5,"align":"left","baseline":"middle","color":"black"},"encoding":{"x":{"field":"t","type":"quantitative"},"y":{"field":"v","type":"quantitative"},"text":{"field":"s"}}},
   {"data":{"name":"ann"},"transform":[{"filter":"datum.p=='c' && datum.k=='tag'"}],"mark":{"type":"text","font":"Lato","fontWeight":"bold","fontSize":15,"align":"left","baseline":"middle","color":"black"},"encoding":{"x":{"field":"t","type":"quantitative"},"y":{"field":"v","type":"quantitative"},"text":{"field":"s"}}},
   {"data":{"name":"ann"},"transform":[{"filter":"datum.p=='c' && datum.k=='name'"}],"mark":{"type":"text","font":"Lato","fontWeight":"bold","fontSize":19,"align":"left","baseline":"middle","color":"black"},"encoding":{"x":{"field":"t","type":"quantitative"},"y":{"field":"v","type":"quantitative"},"text":{"field":"s"}}}
  ]},
  {"data":{"name":"rc"},"mark":{"type":"line","color":"#ed1c24","strokeWidth":1.3},
   "encoding":{
    "x":{"field":"t","type":"quantitative"},
    "y":{"field":"d","type":"quantitative","scale":{"domain":[-0.25,0.024],"nice":false,"zero":false},"axis":{"orient":"right","title":"DrTGA (mg/min)","titleAngle":270,"titleBaseline":"top","values":[0,-0.025,-0.05,-0.075,-0.1,-0.125,-0.15,-0.175,-0.2,-0.225,-0.25],"tickCount":100,"labelExpr":"abs(datum.value*20 - round(datum.value*20)) > 0.1 ? '' : replace(format(datum.value,'.2f'),'−','-')","labelOverlap":false,"tickSize":{"condition":{"test":"abs(datum.value*20 - round(datum.value*20)) > 0.1","value":2.5},"value":4.5}}}}}
 ],
 "resolve":{"scale":{"y":"independent"}}
}
]
}
